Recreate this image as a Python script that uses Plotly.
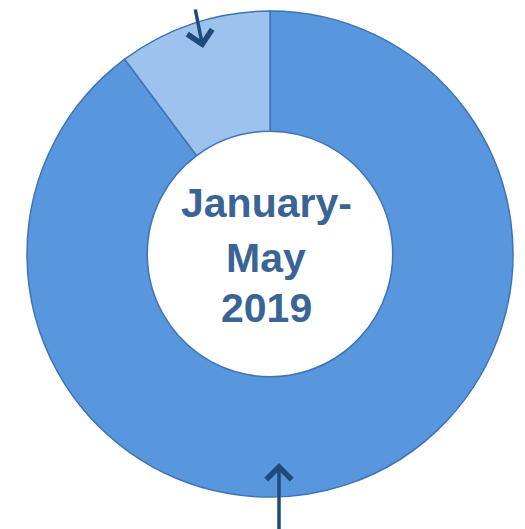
import plotly.graph_objects as go

labels = ["Main share", "Other share"]
values = [89.8, 10.2]
colors = ["#5896DE", "#9DC2EE"]
center_lines = ["January-", "May", "2019"]

W, H = 525, 529
OFF = 8  # page body margin
cx, cy, r = 270 - OFF, 254 - OFF, 243

fig = go.Figure(go.Pie(
    labels=labels, values=values, hole=0.505, sort=False,
    direction="clockwise", rotation=0,
    marker=dict(colors=colors, line=dict(color="#3F73B5", width=1.5)),
    textinfo="none", hoverinfo="label+percent", showlegend=False,
    domain=dict(x=[(cx - r) / W, (cx + r) / W], y=[1 - (cy + r) / H, 1 - (cy - r) / H]),
))

line_y = [203, 258, 308]
for txt, py in zip(center_lines, line_y):
    fig.add_annotation(x=(266 - OFF) / W, y=1 - (py - OFF) / H, xref="paper", yref="paper",
                       text="<b>" + txt + "</b>", showarrow=False, yanchor="middle",
                       font=dict(family="Liberation Sans, Arial", size=41, color="#3A6496"))

# arrows
fig.add_annotation(x=(203 - OFF) / W, y=1 - (48 - OFF) / H, xref="paper", yref="paper", text="",
                   showarrow=True, ax=-8, ay=-75, arrowhead=4, arrowsize=1.4,
                   arrowwidth=3.5, arrowcolor="#1F4B7C")
fig.add_annotation(x=(279 - OFF) / W, y=1 - (463 - OFF) / H, xref="paper", yref="paper", text="",
                   showarrow=True, ax=0, ay=75, arrowhead=4, arrowsize=1.4,
                   arrowwidth=3.5, arrowcolor="#1F4B7C")

fig.update_layout(width=W, height=H, margin=dict(l=0, r=0, t=0, b=0),
                  paper_bgcolor="white", plot_bgcolor="white")
fig.write_html("out.html")
